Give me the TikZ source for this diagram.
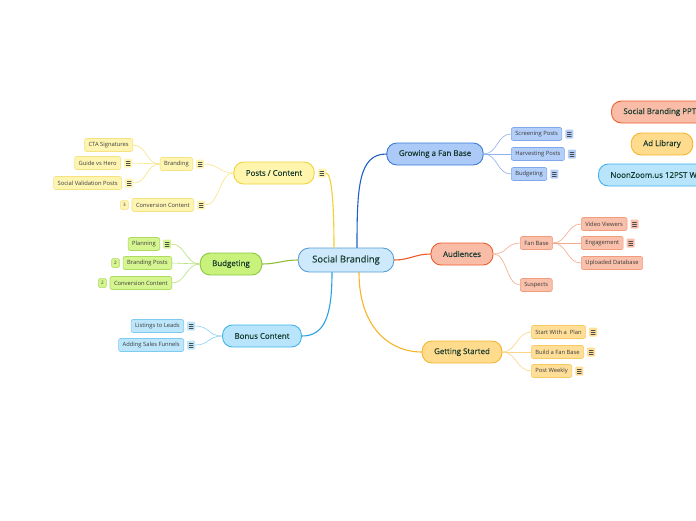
\documentclass[tikz,border=0pt]{standalone}
\usepackage{fontspec}
\setmainfont{Open Sans}
\newfontfamily\titlefont[FakeBold=0.35]{Open Sans}
\usepackage{xcolor}
\usetikzlibrary{positioning}

% branch colours: fill, border, leaf fill, leaf border, main wire, leaf wire
\definecolor{rootFill}{HTML}{CDE9FB}   \definecolor{rootLine}{HTML}{5B9ED6}
\definecolor{postsFill}{HTML}{FFF5AD}  \definecolor{postsLine}{HTML}{F2D33A}
\definecolor{postsSub}{HTML}{FFF5B3}   \definecolor{postsSubLine}{HTML}{F6E27E}
\definecolor{postsWire}{HTML}{F2D02E}  \definecolor{postsTwig}{HTML}{F8E487}
\definecolor{budgetFill}{HTML}{C9F27C} \definecolor{budgetLine}{HTML}{8DC63F}
\definecolor{budgetSub}{HTML}{D5F590}  \definecolor{budgetSubLine}{HTML}{ACDB5E}
\definecolor{budgetWire}{HTML}{8DBF3A} \definecolor{budgetTwig}{HTML}{B8E07A}
\definecolor{bonusFill}{HTML}{B8E5FB}  \definecolor{bonusLine}{HTML}{3FB2EA}
\definecolor{bonusSub}{HTML}{BDE6FA}   \definecolor{bonusSubLine}{HTML}{7DCBF0}
\definecolor{bonusWire}{HTML}{2AA2E2}  \definecolor{bonusTwig}{HTML}{8CD2F2}
\definecolor{growFill}{HTML}{ABCAF8}   \definecolor{growLine}{HTML}{3A7BD9}
\definecolor{growSub}{HTML}{B3CEF8}    \definecolor{growSubLine}{HTML}{7FA7EA}
\definecolor{growWire}{HTML}{1F5FC9}   \definecolor{growTwig}{HTML}{8FB2EE}
\definecolor{audFill}{HTML}{F9BDA7}    \definecolor{audLine}{HTML}{EE5E2E}
\definecolor{audSub}{HTML}{F9C0AB}     \definecolor{audSubLine}{HTML}{F29B7D}
\definecolor{audWire}{HTML}{EE5A28}    \definecolor{audTwig}{HTML}{F6A88C}
\definecolor{startFill}{HTML}{FFDB8D}  \definecolor{startLine}{HTML}{F6B52D}
\definecolor{startSub}{HTML}{FFDE98}   \definecolor{startSubLine}{HTML}{F7CB62}
\definecolor{startWire}{HTML}{F7B52A}  \definecolor{startTwig}{HTML}{FAD583}
\definecolor{titleText}{HTML}{163A2E}  \definecolor{leafText}{HTML}{3A3A3A}

\tikzset{
  central/.style={draw=rootLine, fill=rootFill, line width=0.9pt, rounded corners=11pt,
    minimum height=24pt, inner xsep=14pt, font=\titlefont\fontsize{9.4}{11}\selectfont, text=titleText},
  topic/.style={draw=#1Line, fill=#1Fill, line width=0.9pt, rounded corners=10pt,
    minimum height=22pt, inner xsep=12pt, font=\titlefont\fontsize{7.9}{9}\selectfont, text=titleText},
  leaf/.style={draw=#1SubLine, fill=#1Sub, line width=0.6pt, rounded corners=2pt,
    minimum height=13pt, inner xsep=4pt, inner ysep=0pt, font=\fontsize{5.8}{6.5}\selectfont, text=leafText},
  badge/.style={draw=#1SubLine, fill=#1Sub, line width=0.5pt, rounded corners=1.5pt,
    minimum width=8pt, minimum height=9pt, inner sep=0pt, font=\fontsize{4.6}{5}\selectfont, text=leafText},
  note/.style={fill=#1Sub, rounded corners=1pt, minimum width=8pt, minimum height=9pt, inner sep=0pt,
    path picture={
      \foreach \k in {0,1,2}
        \draw[black!70, line width=0.55pt]
          ([xshift=2pt, yshift={-2.6pt-\k*1.9pt}]path picture bounding box.north west) -- ++(4pt,0pt);
    }},
  wire/.style={draw=#1Wire, line width=1.1pt},
  twig/.style={draw=#1Twig, line width=0.6pt},
}

\begin{document}
\begin{tikzpicture}[x=1pt, y=-1pt, line cap=round]
  \fill[white] (0,0) rectangle (696,520);
  \useasboundingbox (0,0) rectangle (696,520);

  % centre
  \node[central] (root) at (346,260) {Social Branding};

  % main topics
  \node[topic=posts]  (posts)  at (274,173) {Posts / Content};
  \node[note=posts, right=3pt of posts] (postsN) {};
  \node[topic=budget] (budget) at (231,264) {Budgeting};
  \node[topic=bonus]  (bonus)  at (262,336) {Bonus Content};
  \node[topic=grow]   (grow)   at (435,154) {Growing a Fan Base};
  \node[topic=aud]    (aud)    at (462,254) {Audiences};
  \node[topic=start]  (start)  at (462,352) {Getting Started};

  % floating topics, cut by the right edge
  \node[topic=aud, anchor=west]   (ppt)   at (611,112) {Social Branding PPT};
  \node[topic=start]              (adlib) at (662,144) {Ad Library};
  \node[topic=bonus, anchor=west] (noon)  at (598,175) {NoonZoom.us 12PST W};

  % main wires
  \draw[wire=posts]  (postsN.east) .. controls +(6,0) and +(0,-40) .. ([xshift=-12pt]root.north);
  \draw[wire=grow]   ([xshift=11pt]root.north) .. controls +(0,-60) and +(-28,0) .. (grow.west);
  \draw[wire=aud]    (root.east) .. controls +(15,0) and +(-15,0) .. (aud.west);
  \draw[wire=start]  ([xshift=13pt]root.south) .. controls +(0,55) and +(-32,0) .. (start.west);
  \draw[wire=bonus]  ([xshift=-14pt]root.south) .. controls +(0,45) and +(22,0) .. (bonus.east);
  \draw[wire=budget] (root.west) .. controls +(-14,0) and +(14,0) .. (budget.east);

  % posts / content
  \node[leaf=posts, anchor=east] (brand) at (193,164) {Branding};
  \node[note=posts, right=3pt of brand] (brandN) {};
  \node[leaf=posts, anchor=east] (cta) at (133,145) {CTA Signatures};
  \node[leaf=posts, anchor=east] (guide) at (121,163) {Guide vs Hero};
  \node[note=posts, right=3pt of guide] (guideN) {};
  \node[leaf=posts, anchor=east] (valid) at (122,183) {Social Validation Posts};
  \node[note=posts, right=3pt of valid] (validN) {};
  \node[leaf=posts, anchor=east] (conv) at (194,205) {Conversion Content};
  \node[badge=posts, left=3pt of conv] (convB) {3};
  \node[note=posts, right=3pt of conv] (convN) {};
  \foreach \n in {brandN, convN}
    \draw[twig=posts] (posts.west) .. controls +(-14,0) and +(14,0) .. (\n.east);
  \foreach \n in {cta, guideN, validN}
    \draw[twig=posts] (brand.west) .. controls +(-14,0) and +(14,0) .. (\n.east);

  % budgeting
  \node[leaf=budget, anchor=east] (plan) at (160,244) {Planning};
  \node[note=budget, right=3pt of plan] (planN) {};
  \node[leaf=budget, anchor=east] (bposts) at (172,263) {Branding Posts};
  \node[badge=budget, left=3pt of bposts] (bpostsB) {2};
  \node[leaf=budget, anchor=east] (bconv) at (172,283) {Conversion Content};
  \node[badge=budget, left=3pt of bconv] (bconvB) {2};
  \foreach \n in {planN, bposts, bconv}
    \draw[twig=budget] (budget.west) .. controls +(-14,0) and +(14,0) .. (\n.east);

  % bonus content
  \node[leaf=bonus, anchor=east] (leads) at (184,326) {Listings to Leads};
  \node[note=bonus, right=3pt of leads] (leadsN) {};
  \node[leaf=bonus, anchor=east] (funnel) at (184,345) {Adding Sales Funnels};
  \node[note=bonus, right=3pt of funnel] (funnelN) {};
  \foreach \n in {leadsN, funnelN}
    \draw[twig=bonus] (bonus.west) .. controls +(-14,0) and +(14,0) .. (\n.east);

  % growing a fan base
  \node[leaf=grow, anchor=west] (screen) at (511,134) {Screening Posts};
  \node[note=grow, right=3pt of screen] (screenN) {};
  \node[leaf=grow, anchor=west] (harvest) at (511,154) {Harvesting Posts};
  \node[note=grow, right=3pt of harvest] (harvestN) {};
  \node[leaf=grow, anchor=west] (gbudget) at (511,174) {Budgeting};
  \node[note=grow, right=3pt of gbudget] (gbudgetN) {};
  \foreach \n in {screen, harvest, gbudget}
    \draw[twig=grow] (grow.east) .. controls +(14,0) and +(-14,0) .. (\n.west);

  % audiences
  \node[leaf=aud, anchor=west] (fans) at (520,243) {Fan Base};
  \node[leaf=aud, anchor=west] (suspect) at (520,285) {Suspects};
  \node[leaf=aud, anchor=west] (video) at (581,224) {Video Viewers};
  \node[note=aud, right=3pt of video] (videoN) {};
  \node[leaf=aud, anchor=west] (engage) at (581,243) {Engagement};
  \node[note=aud, right=3pt of engage] (engageN) {};
  \node[leaf=aud, anchor=west] (upload) at (581,263) {Uploaded Database};
  \foreach \n in {fans, suspect}
    \draw[twig=aud] (aud.east) .. controls +(14,0) and +(-14,0) .. (\n.west);
  \foreach \n in {video, engage, upload}
    \draw[twig=aud] (fans.east) .. controls +(14,0) and +(-14,0) .. (\n.west);

  % getting started
  \node[leaf=start, anchor=west] (plan2) at (531,332) {Start With a~ Plan};
  \node[note=start, right=3pt of plan2] (plan2N) {};
  \node[leaf=start, anchor=west] (build) at (531,352) {Build a Fan Base};
  \node[note=start, right=3pt of build] (buildN) {};
  \node[leaf=start, anchor=west] (weekly) at (531,371) {Post Weekly};
  \node[note=start, right=3pt of weekly] (weeklyN) {};
  \foreach \n in {plan2, build, weekly}
    \draw[twig=start] (start.east) .. controls +(14,0) and +(-14,0) .. (\n.west);
\end{tikzpicture}
\end{document}
